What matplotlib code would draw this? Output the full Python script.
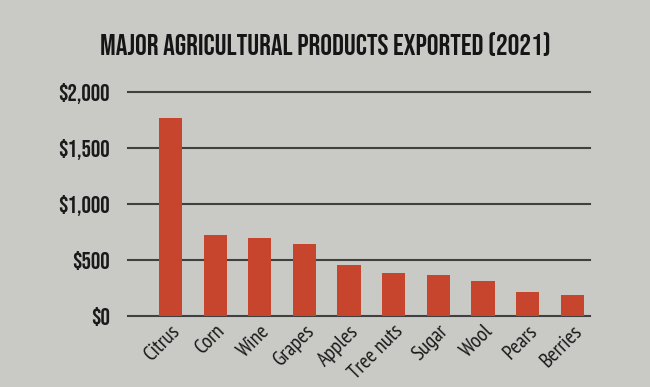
import matplotlib.pyplot as plt
from matplotlib.ticker import FuncFormatter

# Datos (millones de dólares)
productos = ['Citrus', 'Corn', 'Wine', 'Grapes', 'Apples', 'Tree nuts',
             'Sugar', 'Wool', 'Pears', 'Berries']
valores = [1770, 720, 700, 645, 455, 385, 365, 315, 210, 190]
yticks = [0, 500, 1000, 1500, 2000]

fondo = '#c9c9c6'
rojo = '#c8452d'
titulo_fuente = ['Bebas Neue', 'Oswald', 'Archivo Narrow', 'DejaVu Sans']
etiqueta_fuente = ['PT Sans Narrow', 'Archivo Narrow', 'DejaVu Sans']

fig = plt.figure(figsize=(6.5, 3.87), dpi=100, facecolor=fondo)
ax = fig.add_axes([0.197, 0.1835, 0.711, 0.579], facecolor=fondo)

x = range(len(productos))
ax.bar(x, valores, width=0.52, color=rojo, zorder=2)

ax.set_ylim(0, 2000)
ax.set_xlim(-0.95, 9.4)
ax.set_yticks(yticks)
ax.yaxis.set_major_formatter(FuncFormatter(lambda v, p: f'${int(v):,}'))
ax.grid(axis='y', color='#404040', linewidth=1.5, zorder=1)
for g in ax.get_ygridlines():
    g.set_clip_on(False)

for s in ax.spines.values():
    s.set_visible(False)
ax.tick_params(axis='both', length=0)
ax.tick_params(axis='y', pad=13)

for lbl in ax.get_yticklabels():
    lbl.set_family(titulo_fuente)
    lbl.set_fontsize(17)
    lbl.set_color('#1a1a1a')

ax.set_xticks(list(x))
ax.set_xticklabels(productos, rotation=45, ha='right', rotation_mode='anchor',
                   family=etiqueta_fuente, fontsize=15, color='#1a1a1a')
ax.tick_params(axis='x', pad=4)

fig.text(0.5, 0.885, 'MAJOR AGRICULTURAL PRODUCTS EXPORTED (2021)',
         ha='center', va='center', family=titulo_fuente,
         fontsize=21, color='#151515')

fig.savefig('out.png', dpi=100, facecolor=fondo)
